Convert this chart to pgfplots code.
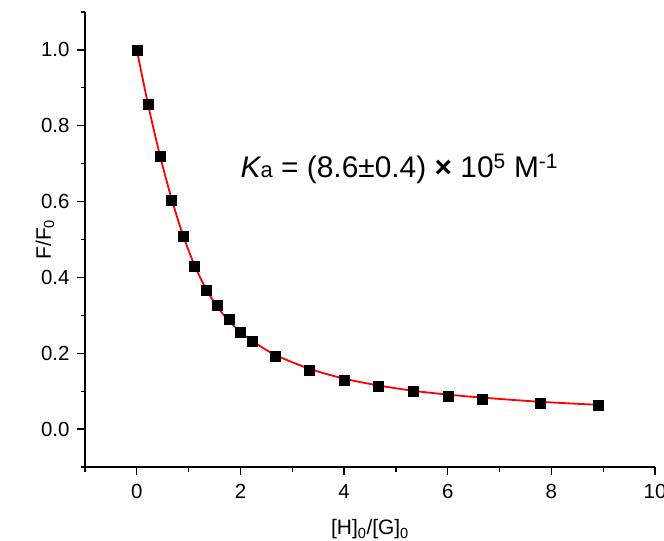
\documentclass[border=0pt]{standalone}
\usepackage{pgfplots}
\pgfplotsset{compat=1.18}
\usepackage{fontspec}
\setmainfont{Liberation Sans}
\usetikzlibrary{calc}
\begin{document}
\begin{tikzpicture}[x=1bp,y=1bp]
\begin{axis}[
  name=ax,
  scale only axis,
  width=570bp, height=455bp,
  xmin=-1, xmax=10, ymin=-0.1, ymax=1.1,
  axis x line*=bottom, axis y line*=left,
  axis line style={-, line width=1.3bp, black},
  tick align=outside,
  major tick length=8bp, minor tick length=4.5bp,
  tick style={line width=1.2bp, black},
  xtick={0,2,...,10}, minor xtick={-1,1,...,9},
  ytick={0,0.2,0.4,0.6,0.8,1.0}, minor ytick={-0.1,0.1,0.3,0.5,0.7,0.9,1.1},
  yticklabel style={/pgf/number format/fixed, /pgf/number format/fixed zerofill, /pgf/number format/precision=1},
  /pgf/number format/assume math mode=true,
  tick label style={font=\fontsize{20.5}{24}\selectfont},
  xticklabel style={yshift=-6bp},
  yticklabel style={xshift=-4bp},
  label style={font=\fontsize{21}{25}\selectfont},
  xlabel={[H]\textsubscript{0}/[G]\textsubscript{0}},
  ylabel={F/F\textsubscript{0}},
  xlabel style={yshift=-14bp},
  ylabel style={yshift=-20bp},
  clip=false,
]
\addplot[red, line width=1.8bp, smooth, tension=0.5] coordinates {
(0,1.0) (0.222,0.853) (0.444,0.723) (0.667,0.609) (0.889,0.512) (1.111,0.433)
(1.333,0.370) (1.556,0.322) (1.778,0.285) (2.0,0.256) (2.222,0.233) (2.667,0.196)
(3.333,0.159) (4.0,0.133) (4.667,0.115) (5.333,0.101) (6.0,0.091) (6.667,0.083)
(7.778,0.072) (8.9,0.064)
};
\addplot[only marks, mark=square*, mark size=5bp, black] coordinates {
(0,1.000) (0.222,0.858) (0.444,0.719) (0.667,0.604) (0.889,0.510) (1.111,0.430)
(1.333,0.367) (1.556,0.326) (1.778,0.290) (2.000,0.255) (2.222,0.232) (2.667,0.193)
(3.333,0.154) (4.000,0.130) (4.667,0.112) (5.333,0.100) (6.000,0.088) (6.667,0.080)
(7.778,0.068) (8.9,0.062)
};
\node[anchor=base west, inner sep=0pt, font=\fontsize{30}{35}\selectfont] at (axis cs:2.0,0.664)
 {\textit{K}\kern-1pt{\fontsize{22}{26}\selectfont a} = (8.6±0.4) \textbf{×} 10\textsuperscript{5} M\textsuperscript{-1}};
\end{axis}
\pgfresetboundingbox
\path ($(ax.south west)+(-85bp,-74bp)$) rectangle ($(ax.north east)+(9bp,12bp)$);
\end{tikzpicture}
\end{document}
